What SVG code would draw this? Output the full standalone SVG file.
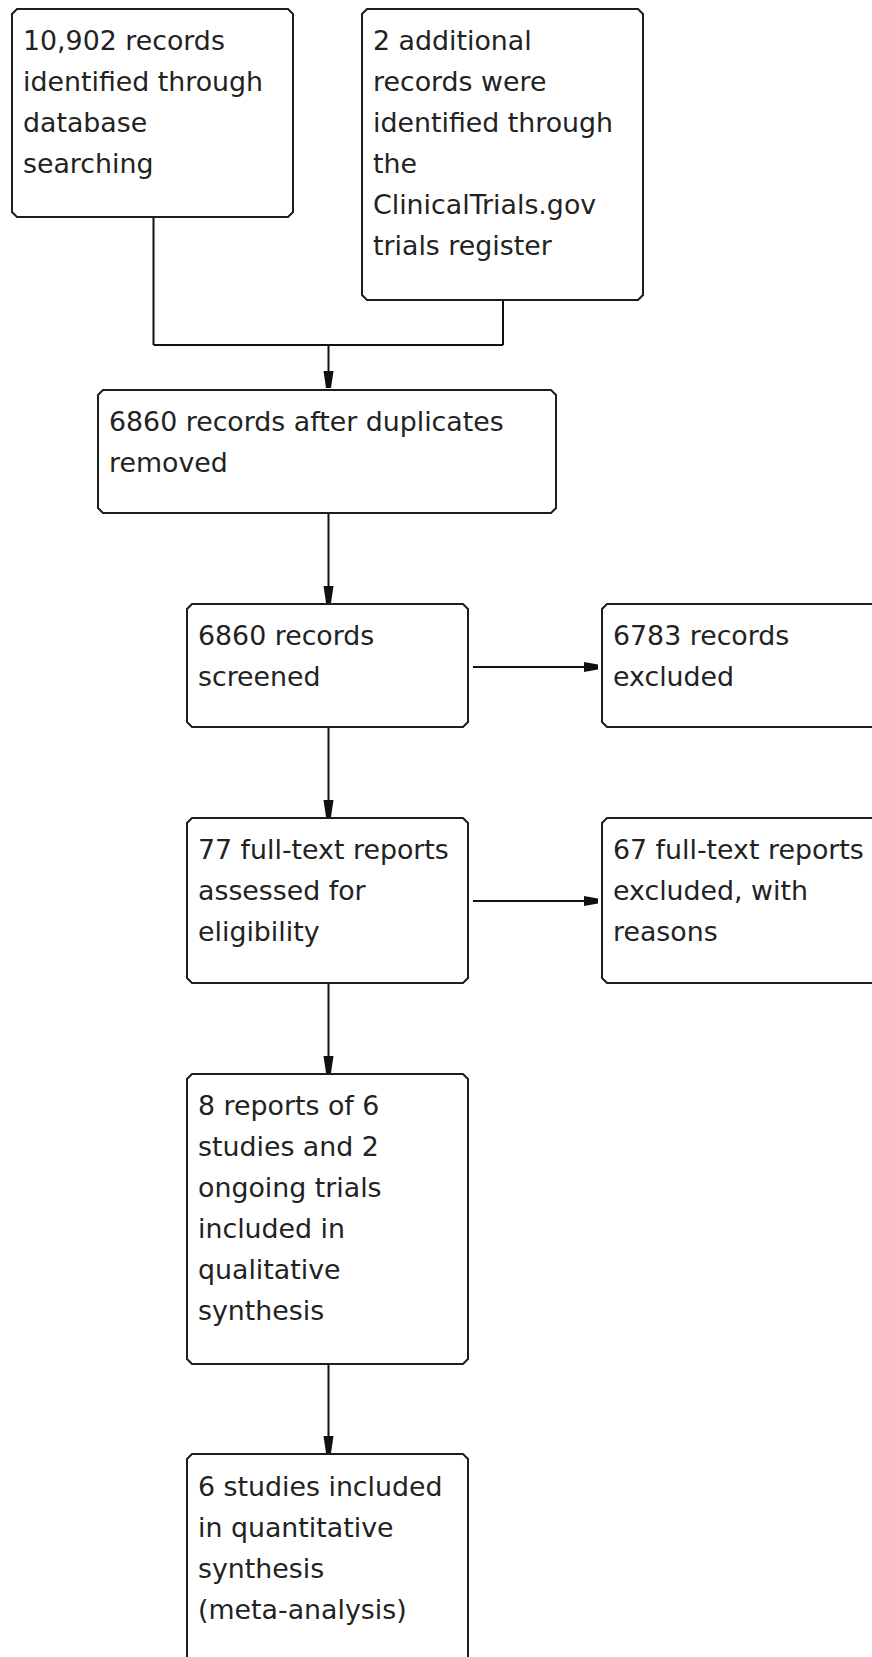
<svg xmlns="http://www.w3.org/2000/svg" width="872" height="1657" viewBox="0 0 872 1657">
<style>
.box{fill:#fff;stroke:#1e1e1e;stroke-width:2}
.t{font-family:"DejaVu Sans",sans-serif;font-size:26.8px;fill:#222}
.c{fill:none;stroke:#111;stroke-width:2}
.ah{fill:#111}
</style>
<rect width="872" height="1657" fill="#fff"/>
<g id="connectors">
<path class="c" d="M153.5 217V345M503 300V345M153.5 345H503M328.5 345V372"/>
<polygon class="ah" points="323.5,371 333.5,371 331,388 326,388"/>
<path class="c" d="M328.5 513V587"/>
<polygon class="ah" points="323.5,586 333.5,586 331,603 326,603"/>
<path class="c" d="M473 667H585"/>
<polygon class="ah" points="584,662 584,672 598,669.5 598,664.5"/>
<path class="c" d="M328.5 727V801"/>
<polygon class="ah" points="323.5,800 333.5,800 331,817 326,817"/>
<path class="c" d="M473 901H585"/>
<polygon class="ah" points="584,896 584,906 598,903.5 598,898.5"/>
<path class="c" d="M328.5 983V1057"/>
<polygon class="ah" points="323.5,1056 333.5,1056 331,1073 326,1073"/>
<path class="c" d="M328.5 1364V1437"/>
<polygon class="ah" points="323.5,1436 333.5,1436 331,1453 326,1453"/>
</g>
<g id="n1">
<path class="box" d="M17 9H288L293 14V212L288 217H17L12 212V14Z"/>
<text class="t" x="23" y="50">10,902 records</text>
<text class="t" x="23" y="91">identified through</text>
<text class="t" x="23" y="132">database</text>
<text class="t" x="23" y="173">searching</text>
</g>
<g id="n2">
<path class="box" d="M367 9H638L643 14V295L638 300H367L362 295V14Z"/>
<text class="t" x="373" y="50">2 additional</text>
<text class="t" x="373" y="91">records were</text>
<text class="t" x="373" y="132">identified through</text>
<text class="t" x="373" y="173">the</text>
<text class="t" x="373" y="214">ClinicalTrials.gov</text>
<text class="t" x="373" y="255">trials register</text>
</g>
<g id="n3">
<path class="box" d="M103 390H551L556 395V508L551 513H103L98 508V395Z"/>
<text class="t" x="109" y="431">6860 records after duplicates</text>
<text class="t" x="109" y="472">removed</text>
</g>
<g id="n4">
<path class="box" d="M192 604H463L468 609V722L463 727H192L187 722V609Z"/>
<text class="t" x="198" y="645">6860 records</text>
<text class="t" x="198" y="686">screened</text>
</g>
<g id="n5">
<path class="box" d="M607 604H880V727H607L602 722V609Z"/>
<text class="t" x="613" y="645">6783 records</text>
<text class="t" x="613" y="686">excluded</text>
</g>
<g id="n6">
<path class="box" d="M192 818H463L468 823V978L463 983H192L187 978V823Z"/>
<text class="t" x="198" y="859">77 full-text reports</text>
<text class="t" x="198" y="900">assessed for</text>
<text class="t" x="198" y="941">eligibility</text>
</g>
<g id="n7">
<path class="box" d="M607 818H880V983H607L602 978V823Z"/>
<text class="t" x="613" y="859">67 full-text reports</text>
<text class="t" x="613" y="900">excluded, with</text>
<text class="t" x="613" y="941">reasons</text>
</g>
<g id="n8">
<path class="box" d="M192 1074H463L468 1079V1359L463 1364H192L187 1359V1079Z"/>
<text class="t" x="198" y="1115">8 reports of 6</text>
<text class="t" x="198" y="1156">studies and 2</text>
<text class="t" x="198" y="1197">ongoing trials</text>
<text class="t" x="198" y="1238">included in</text>
<text class="t" x="198" y="1279">qualitative</text>
<text class="t" x="198" y="1320">synthesis</text>
</g>
<g id="n9">
<path class="box" d="M192 1454H463L468 1459V1670H187V1459Z"/>
<text class="t" x="198" y="1496">6 studies included</text>
<text class="t" x="198" y="1537">in quantitative</text>
<text class="t" x="198" y="1578">synthesis</text>
<text class="t" x="198" y="1619">(meta-analysis)</text>
</g>
</svg>
